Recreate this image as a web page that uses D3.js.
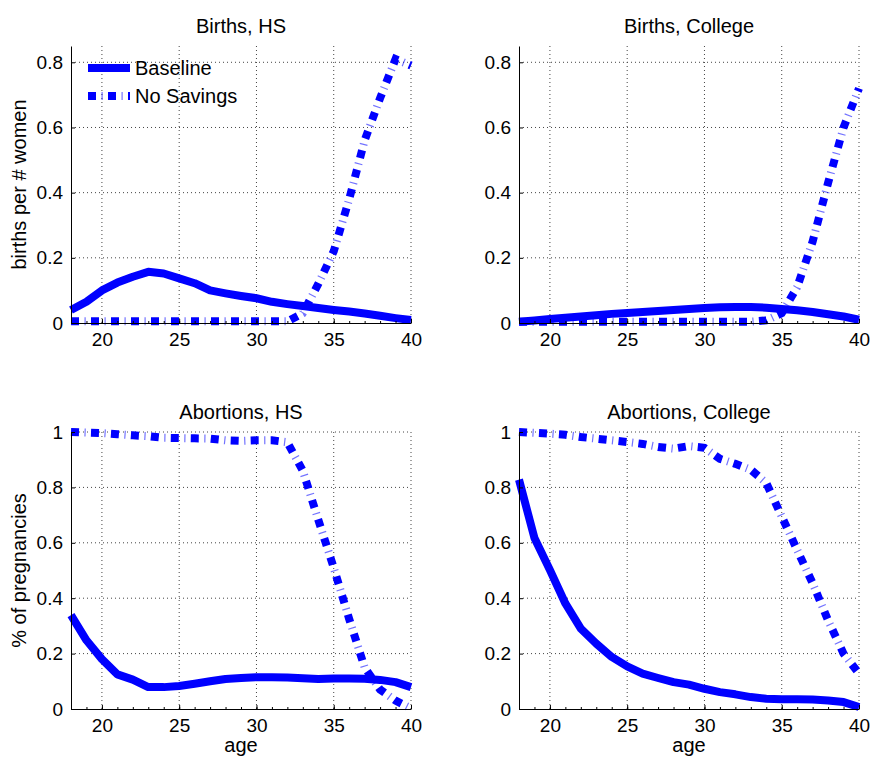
<!DOCTYPE html>
<html>
<head>
<meta charset="utf-8">
<script src="https://cdn.jsdelivr.net/npm/d3@7"></script>
<style>
  body { margin: 0; background: #fff; }
  svg text { font-family: "Liberation Sans", Arial, Helvetica, sans-serif; fill: #000; }
</style>
</head>
<body>
<div id="chart"></div>
<script>
// ages 18..40
const ages = d3.range(18, 41);

const birthsHsBase  = [0.040, 0.065, 0.100, 0.124, 0.142, 0.157, 0.152, 0.137, 0.122, 0.100, 0.091, 0.083, 0.076,
                       0.065, 0.058, 0.052, 0.046, 0.040, 0.035, 0.029, 0.022, 0.015, 0.009];
const birthsHsNoSav = [0.005, 0.005, 0.005, 0.005, 0.005, 0.005, 0.005, 0.005, 0.005, 0.005, 0.005, 0.005, 0.005,
                       0.005, 0.005, 0.030, 0.120, 0.220, 0.380, 0.560, 0.690, 0.810, 0.790];
const birthsColBase  = [0.004, 0.008, 0.012, 0.016, 0.020, 0.024, 0.028, 0.031, 0.034, 0.037, 0.040, 0.043, 0.046,
                        0.048, 0.049, 0.049, 0.047, 0.043, 0.039, 0.034, 0.027, 0.020, 0.010];
const birthsColNoSav = [0.004, 0.004, 0.004, 0.004, 0.004, 0.004, 0.004, 0.004, 0.004, 0.004, 0.004, 0.004, 0.004,
                        0.004, 0.004, 0.004, 0.008, 0.030, 0.110, 0.250, 0.430, 0.600, 0.720];
const abortHsBase  = [0.339, 0.248, 0.180, 0.125, 0.106, 0.079, 0.079, 0.083, 0.091, 0.100, 0.108, 0.112, 0.115,
                      0.115, 0.114, 0.111, 0.108, 0.110, 0.110, 0.109, 0.105, 0.097, 0.079];
const abortHsNoSav = [1.000, 0.998, 0.996, 0.992, 0.988, 0.985, 0.979, 0.978, 0.977, 0.976, 0.970, 0.968, 0.970,
                      0.970, 0.963, 0.860, 0.683, 0.510, 0.325, 0.150, 0.070, 0.030, 0.002];
const abortColBase  = [0.828, 0.617, 0.502, 0.381, 0.290, 0.236, 0.188, 0.154, 0.128, 0.112, 0.097, 0.088, 0.073,
                       0.061, 0.053, 0.043, 0.037, 0.035, 0.035, 0.034, 0.031, 0.025, 0.007];
const abortColNoSav = [1.000, 0.997, 0.994, 0.990, 0.982, 0.976, 0.970, 0.964, 0.957, 0.946, 0.940, 0.949, 0.943,
                       0.903, 0.885, 0.864, 0.816, 0.695, 0.574, 0.454, 0.320, 0.200, 0.128];

const xTicks = [20, 25, 30, 35, 40];
const yTicksBirths = [0, 0.2, 0.4, 0.6, 0.8];
const yTicksAbort = [0, 0.2, 0.4, 0.6, 0.8, 1];
const seriesNames = ["Baseline", "No Savings"];

const W = 871, H = 758;
const blue = "#0000ff";

const panels = [
  { title: "Births, HS", base: birthsHsBase, nosav: birthsHsNoSav, ymax: 0.85, yticks: yTicksBirths,
    left: 71, top: 46, ylabel: "births per # women", legend: true },
  { title: "Births, College", base: birthsColBase, nosav: birthsColNoSav, ymax: 0.85, yticks: yTicksBirths,
    left: 519, top: 46 },
  { title: "Abortions, HS", base: abortHsBase, nosav: abortHsNoSav, ymax: 1, yticks: yTicksAbort,
    left: 71, top: 432, ylabel: "% of pregnancies", xlabel: "age" },
  { title: "Abortions, College", base: abortColBase, nosav: abortColNoSav, ymax: 1, yticks: yTicksAbort,
    left: 519, top: 432, xlabel: "age" }
];
const pw = 340, ph = 277;

const svg = d3.select("#chart").append("svg")
  .attr("width", W).attr("height", H);

// draw a "No Savings" style line: fat squares plus thin light bars between them
function dashedLine(g, d) {
  g.append("path").attr("d", d)
    .attr("fill", "none").attr("stroke", blue).attr("stroke-width", 8)
    .attr("stroke-dasharray", "8 12");
  g.append("path").attr("d", d)
    .attr("fill", "none").attr("stroke", blue).attr("stroke-width", 8)
    .attr("stroke-opacity", 0.55)
    .attr("stroke-dasharray", "1.2 18.8").attr("stroke-dashoffset", -13.5);
}

panels.forEach(p => {
  const x = d3.scaleLinear().domain([18, 40]).range([0, pw]);
  const y = d3.scaleLinear().domain([0, p.ymax]).range([ph, 0]);
  const g = svg.append("g").attr("transform", `translate(${p.left},${p.top})`);

  // grid
  g.selectAll(".gx").data(xTicks).enter().append("line")
    .attr("x1", d => x(d)).attr("x2", d => x(d)).attr("y1", 0).attr("y2", ph)
    .attr("stroke", "#444").attr("stroke-dasharray", "1 3");
  g.selectAll(".gy").data(p.yticks.filter(v => v > 0)).enter().append("line")
    .attr("x1", 0).attr("x2", pw).attr("y1", d => y(d)).attr("y2", d => y(d))
    .attr("stroke", "#444").attr("stroke-dasharray", "1 3");

  // lines
  const line = d3.line().x((d, i) => x(ages[i])).y(d => y(d));
  const lines = g.append("g");
  lines.append("path").datum(p.base).attr("d", line)
    .attr("fill", "none").attr("stroke", blue).attr("stroke-width", 8)
    .attr("stroke-linejoin", "round");
  dashedLine(lines, line(p.nosav));

  // axes
  const ax = g.append("g").attr("transform", `translate(0,${ph})`)
    .call(d3.axisBottom(x).tickValues(xTicks).tickSize(-4).tickSizeOuter(0).tickPadding(10)
      .tickFormat(d3.format("d")));
  ax.selectAll("text").style("font-size", "19px");
  g.append("g").attr("transform", `translate(0,${ph})`)
    .call(d3.axisBottom(x).tickValues(d3.range(18, 40.1, 1)).tickSize(-2).tickSizeOuter(0).tickFormat(""))
    .select(".domain").remove();
  const ay = g.append("g")
    .call(d3.axisLeft(y).tickValues(p.yticks).tickSize(-4).tickSizeOuter(0).tickPadding(8)
      .tickFormat(d => String(+d.toFixed(1))));
  ay.selectAll("text").style("font-size", "19px");
  g.selectAll(".domain").attr("stroke", "#000");

  // title
  g.append("text").attr("x", pw / 2).attr("y", -13)
    .attr("text-anchor", "middle").style("font-size", "20px").text(p.title);

  if (p.ylabel) {
    g.append("text")
      .attr("transform", `translate(${-p.left + 26},${ph / 2}) rotate(-90)`)
      .attr("text-anchor", "middle").style("font-size", "20px").text(p.ylabel);
  }
  if (p.xlabel) {
    g.append("text").attr("x", pw / 2).attr("y", ph + 43)
      .attr("text-anchor", "middle").style("font-size", "20px").text(p.xlabel);
  }

  if (p.legend) {
    const lg = g.append("g");
    const rows = [22, 50];
    lg.append("line").attr("x1", 17).attr("x2", 59).attr("y1", rows[0]).attr("y2", rows[0])
      .attr("stroke", blue).attr("stroke-width", 8);
    dashedLine(lg, `M17,${rows[1]}L59,${rows[1]}`);
    seriesNames.forEach((s, i) => {
      lg.append("text").attr("x", 64).attr("y", rows[i] + 7)
        .style("font-size", "20px").text(s);
    });
  }
});
</script>
</body>
</html>
